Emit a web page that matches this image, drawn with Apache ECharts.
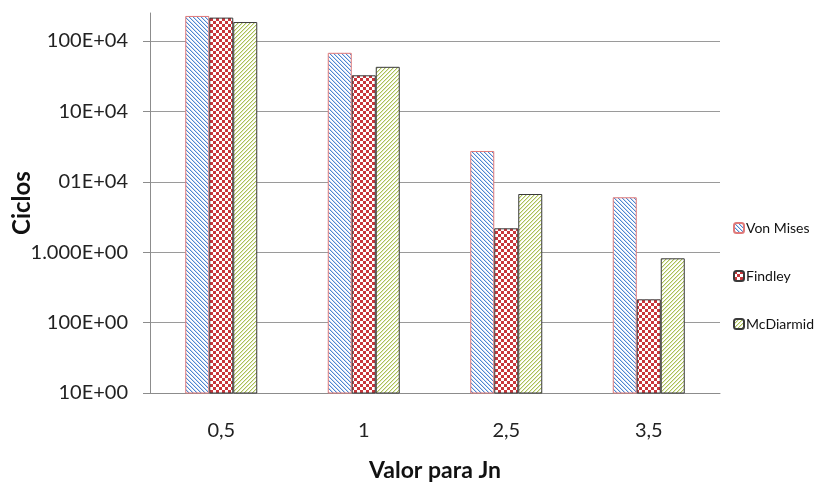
<!DOCTYPE html>
<html>
<head>
<meta charset="utf-8">
<script src="https://cdn.jsdelivr.net/npm/echarts@6/dist/echarts.min.js"></script>
<style>html,body{margin:0;padding:0;background:#fff}#c{width:817px;height:482px}</style>
</head>
<body>
<div id="c"></div>
<script>
var categories = ['0,5', '1', '2,5', '3,5'];
var vonMises = [2270000, 680000, 27400, 6030];
var findley = [2150000, 326000, 2185, 214];
var mcDiarmid = [1860000, 430000, 6710, 819];
var seriesNames = ['Von Mises', 'Findley', 'McDiarmid'];
var tickLabels = {10: '10E+00', 100: '100E+00', 1000: '1.000E+00', 10000: '01E+04', 100000: '10E+04', 1000000: '100E+04'};

function pattern(size, fn) {
  var c = document.createElement('canvas');
  c.width = size; c.height = size;
  var ctx = c.getContext('2d');
  ctx.fillStyle = '#ffffff';
  ctx.fillRect(0, 0, size, size);
  for (var x = 0; x < size; x++) {
    for (var y = 0; y < size; y++) {
      var col = fn(x, y);
      if (col) { ctx.fillStyle = col; ctx.fillRect(x, y, 1, 1); }
    }
  }
  return { image: c, repeat: 'repeat' };
}
var vmPat = pattern(4, function (x, y) { var d = ((x - y) % 4 + 4) % 4; return d === 0 ? '#4f86d0' : (d === 1 ? '#c9dbf2' : null); });
var mcPat = pattern(4, function (x, y) { var d = (x + y) % 4; return d === 0 ? '#a9bf55' : (d === 1 ? '#e3ebc2' : null); });
var fiPat = pattern(6, function (x, y) { return ((Math.floor(x / 3) + Math.floor(y / 3)) % 2 === 0) ? '#c8363b' : null; });

var chart = echarts.init(document.getElementById('c'), null, { renderer: 'canvas' });
var font = "Lato, sans-serif";
chart.setOption({
  animation: false,
  backgroundColor: '#ffffff',
  grid: { left: 150, right: 97, top: 13, bottom: 89, containLabel: false, outerBoundsMode: 'none' },
  legend: {
    orient: 'vertical', left: 733, top: 221, padding: 0,
    itemWidth: 10, itemHeight: 10, itemGap: 34,
    textStyle: { fontFamily: font, fontSize: 14, color: '#111', padding: [0, 0, 0, -3] },
    data: seriesNames
  },
  xAxis: {
    type: 'category', data: categories,
    name: 'Valor para Jn', nameLocation: 'middle', nameGap: 66, nameMoveOverlap: false,
    nameTextStyle: { fontFamily: font, fontSize: 23, fontWeight: 'bold', color: '#111' },
    axisLine: { lineStyle: { color: '#8c8c8c', width: 1 } },
    axisTick: { show: false },
    axisLabel: { fontFamily: font, fontSize: 20, color: '#222', margin: 28 }
  },
  yAxis: {
    type: 'log', logBase: 10, min: 10, max: 2500000,
    name: 'Ciclos', nameLocation: 'middle', nameGap: 116, nameMoveOverlap: false,
    nameTextStyle: { fontFamily: font, fontSize: 24, fontWeight: 'bold', color: '#111' },
    axisLine: { show: true, lineStyle: { color: '#8c8c8c', width: 1 } },
    axisTick: { show: true, length: 7, lineStyle: { color: '#8c8c8c' } },
    axisLabel: {
      fontFamily: font, fontSize: 20, color: '#222', margin: 22, showMaxLabel: false,
      formatter: function (v) { var k = Math.round(v); return tickLabels[k] || ''; }
    },
    splitLine: { show: true, showMaxLine: false, lineStyle: { color: '#9a9a9a', width: 1 } }
  },
  series: [
    { name: seriesNames[0], type: 'bar', data: vonMises, barWidth: 24, barGap: '0%',
      itemStyle: { color: vmPat, borderColor: '#e07a7a', borderWidth: 1 } },
    { name: seriesNames[1], type: 'bar', data: findley, barWidth: 24, barGap: '0%',
      itemStyle: { color: fiPat, borderColor: '#3a3a3a', borderWidth: 1 } },
    { name: seriesNames[2], type: 'bar', data: mcDiarmid, barWidth: 24, barGap: '0%',
      itemStyle: { color: mcPat, borderColor: '#3a3a3a', borderWidth: 1 } }
  ]
});
</script>
</body>
</html>
